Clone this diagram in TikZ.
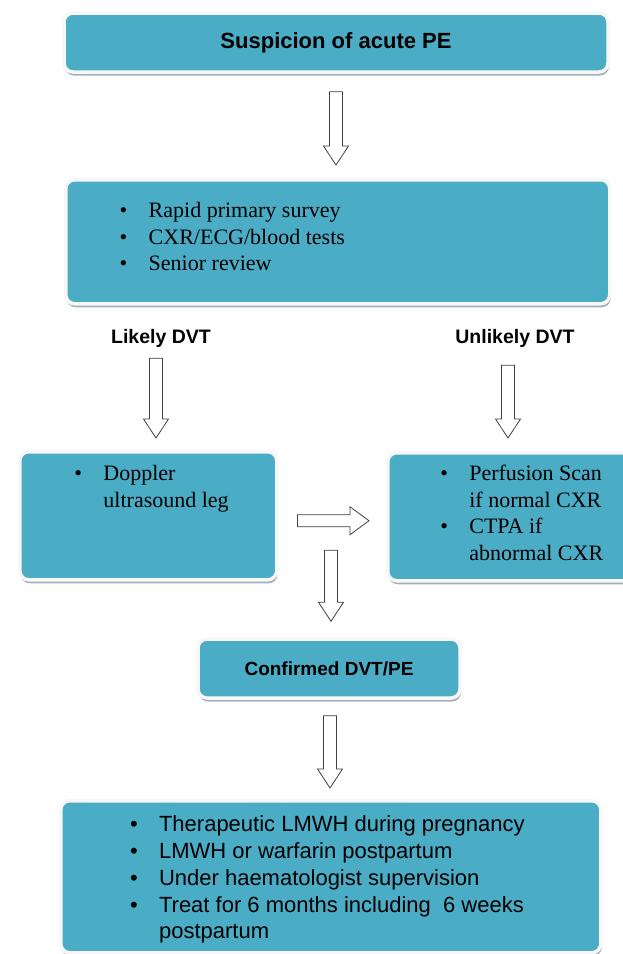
\documentclass[tikz,border=0pt]{standalone}
\usepackage{fontspec}
\setmainfont{Liberation Serif}
\setsansfont{Liberation Sans}
\usetikzlibrary{calc,shadows}
\definecolor{boxblue}{HTML}{4BACC6}
\definecolor{shadowgrey}{HTML}{98A8B0}

% bullet list inside a box
\newcommand{\bitem}{\par\noindent\hangindent=29pt\hangafter=1\makebox[29pt][l]{\textbullet}}
\newcommand{\itemlist}[3]{\begin{minipage}[t]{#2}\leftskip=#1\relax #3\end{minipage}}

\begin{document}
\begin{tikzpicture}[
        x=1pt, y=-1pt,                % pixel-like units, y downwards
        box/.style={
            rectangle,
            rounded corners=9pt,
            fill=boxblue,
            draw=gray!6,
            line width=3.5pt,
            inner sep=0pt,
            drop shadow={shadow xshift=1pt, shadow yshift=-3.5pt, fill=shadowgrey, opacity=0.9}
        },
        headfont/.style={font=\sffamily\bfseries\fontsize{22}{26}\selectfont},
        branch/.style={inner sep=0pt, font=\sffamily\bfseries\fontsize{19.5}{23}\selectfont},
        bodyfont/.style={font=\rmfamily\fontsize{22}{26.6}\selectfont},
        listfont/.style={font=\sffamily\fontsize{22}{26.8}\selectfont},
        hollow/.style={draw=black!75, fill=white, line width=0.8pt},
        blockdown/.style={to path={let \p1=(\tikztostart), \p2=(\tikztotarget) in
            (\x1-6.5pt,\y1) -- (\x1+6.5pt,\y1) -- (\x1+6.5pt,\y2+19pt) -- (\x1+12.5pt,\y2+19pt)
            -- (\x1,\y2) -- (\x1-12.5pt,\y2+19pt) -- (\x1-6.5pt,\y2+19pt) -- cycle}},
        blockright/.style={to path={let \p1=(\tikztostart), \p2=(\tikztotarget) in
            (\x1,\y1+6pt) -- (\x2-19pt,\y1+6pt) -- (\x2-19pt,\y1+14pt) -- (\x2,\y1)
            -- (\x2-19pt,\y1-14pt) -- (\x2-19pt,\y1-6pt) -- (\x1,\y1-6pt) -- cycle}}
    ]
        \useasboundingbox (0,0) rectangle (622,954);

        % boxes
        \node[box, headfont, minimum width=544pt, minimum height=59pt] (suspicion) at (336,42.5) {Suspicion of acute PE};
        \node[box, bodyfont, anchor=north west, text height=38pt, text depth=86pt] (survey) at (64,178)
            {\itemlist{54pt}{544pt}{\bitem Rapid primary survey \bitem CXR/ECG/blood tests \bitem Senior review}};

        \node[branch] (likely) at (161,338) {Likely DVT};
        \node[branch] (unlikely) at (515,338) {Unlikely DVT};

        \node[box, bodyfont, anchor=north west, text height=29pt, text depth=99pt] (doppler) at (18,450)
            {\itemlist{54.7pt}{257pt}{\bitem Doppler\\ultrasound leg}};
        \node[box, bodyfont, anchor=north west, text height=28pt, text depth=100pt] (scan) at (386,451)
            {\itemlist{52.6pt}{264pt}{\bitem Perfusion Scan\\if normal CXR \bitem CTPA if\\abnormal CXR}};

        \node[box, font=\sffamily\bfseries\fontsize{19}{23}\selectfont, minimum width=262pt, minimum height=59pt] (confirmed) at (329,668.5) {Confirmed DVT/PE};
        \node[box, listfont, anchor=north west, text height=31pt, text depth=121pt] (treat) at (59,799)
            {\itemlist{69.3pt}{540pt}{\bitem Therapeutic LMWH during pregnancy \bitem LMWH or warfarin postpartum
             \bitem Under haematologist supervision \bitem Treat for 6 months including~ 6 weeks\\postpartum}};

        % arrows
        \draw[hollow, blockdown] ([yshift=-18pt]suspicion.south) to ([yshift=13pt]survey.north);
        \draw[hollow, blockdown] ([xshift=-5pt, yshift=-11pt]likely.south) to ([yshift=12pt]doppler.north);
        \draw[hollow, blockdown] ([xshift=-7pt, yshift=-18pt]unlikely.south) to ([yshift=13pt]scan.north);
        \draw[hollow, blockright] ([xshift=19pt, yshift=-5pt]doppler.east) to ([xshift=-17pt]scan.west);
        \draw[hollow, blockdown] ([xshift=2pt, yshift=87pt]confirmed.north) to ([yshift=16pt]confirmed.north);
        \draw[hollow, blockdown] ([xshift=1pt, yshift=-16pt]confirmed.south) to ([yshift=11pt]treat.north);
\end{tikzpicture}
\end{document}
